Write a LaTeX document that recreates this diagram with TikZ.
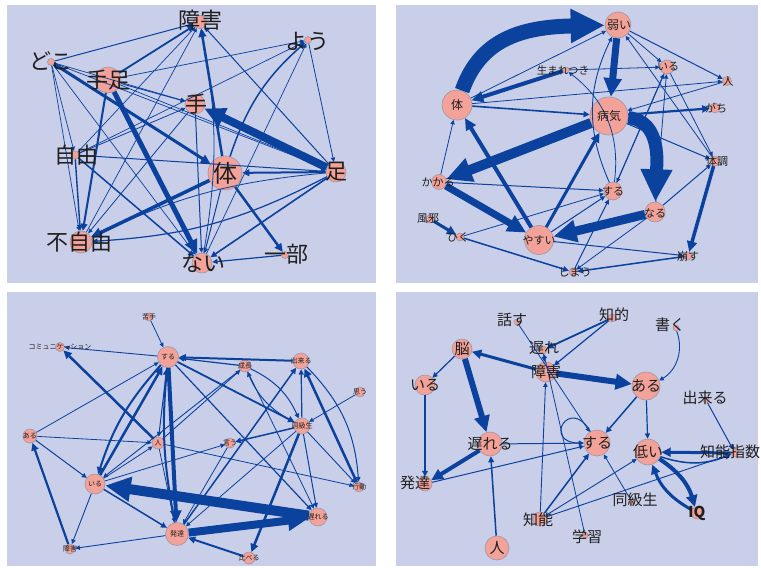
\documentclass[tikz,border=0pt]{standalone}
\usepackage{fontspec}
\newfontfamily\jp{Noto Sans CJK JP}
\usetikzlibrary{arrows.meta}
\definecolor{bg}{RGB}{201,206,233}
\definecolor{eb}{RGB}{10,66,158}
\definecolor{nf}{RGB}{242,162,152}
\definecolor{nb}{RGB}{160,150,165}
\tikzset{
  nd/.style={circle, fill=nf, draw=nb, line width=0.6pt, inner sep=0pt, minimum size=#1},
  lb/.style={font={\jp\fontsize{#1}{#1}\selectfont}, text={black!88}, inner sep=0pt},
  ar/.style={draw=eb, line width=#1pt, -{Triangle[length=2.5pt 2.3, width=2.5pt 2.1]}},
  panel/.style={fill=bg}
}
\newcommand\mkN[4]{\node[nd=#4pt] (#1) at (#2,#3) {};}
\newcommand\mkL[5]{\node[lb=#4] (#1) at (#2,#3) {#5};}
\newcommand\E[4][]{\draw[ar=#2,#1] (#3) to (#4);}
\begin{document}
\begin{tikzpicture}[x=1pt,y=-1pt]
\useasboundingbox (0,0) rectangle (761,568);
\fill[white] (0,0) rectangle (761,568);
\fill[panel] (7,5) rectangle (376,283);
\fill[panel] (396,5) rectangle (758,283);
\fill[panel] (7,292) rectangle (376,566);
\fill[panel] (396,292) rectangle (758,566);

% ---------------- Panel 1 ----------------
\mkN{a1}{200}{22}{13}
\mkN{a2}{308}{40}{7}
\mkN{a3}{51}{62}{7}
\mkN{a4}{108}{80}{26}
\mkN{a5}{195}{104}{20}
\mkN{a6}{75}{155}{8}
\mkN{a7}{225}{173}{34}
\mkN{a8}{336}{172}{20}
\mkN{a9}{81}{242}{22}
\mkN{a10}{202}{263}{20}
\mkN{a11}{285}{255}{7}

\E{1.0}{a3}{a1}
\E{1.8}{a4}{a1}
\E{2.5}{a7}{a1}
\E{8}{a8}{a5}
\E{3}{a3}{a7}
\E{5}{a4}{a10}
\E{2}{a4}{a9}
\E{3.5}{a7}{a9}
\E{1.4}{a6}{a9}
\E{2.5}{a7}{a11}
\E{2}{a8}{a7}
\E{1.6}{a8}{a10}
\E{1.2}{a11}{a10}
\E{0.7}{a3}{a5}
\E{0.9}{a4}{a5}
\E{0.7}{a4}{a2}
\E{0.7}{a6}{a2}
\E{0.7}{a3}{a6}
\E{0.7}{a3}{a9}
\E{0.7}{a3}{a10}
\E{0.7}{a3}{a8}
\E{1.0}{a6}{a8}
\E{1.5}{a6}{a10}
\E{1.0}{a5}{a10}
\E{0.8}{a5}{a9}
\E[bend left=12]{1.2}{a8}{a9}
\E[bend right=10]{0.8}{a8}{a9}
\E{0.8}{a2}{a8}
\E[bend left=15]{1.5}{a7}{a2}
\E{0.7}{a10}{a2}
\E{1.0}{a8}{a1}
\E[bend right=10]{0.8}{a10}{a1}
\E{0.7}{a9}{a1}
\E{0.7}{a6}{a1}
\E{1.0}{a7}{a10}
\E{0.8}{a6}{a5}
\E{0.7}{a4}{a8}

\mkL{la1}{200}{20}{22}{障害}
\mkL{la2}{307}{41}{22}{よう}
\mkL{la3}{51}{61}{22}{どこ}
\mkL{la4}{108}{80}{22}{手足}
\mkL{la5}{196}{104}{22}{手}
\mkL{la6}{76}{155}{22}{自由}
\mkL{la7}{225}{173}{24}{体}
\mkL{la8}{336}{172}{22}{足}
\mkL{la9}{79}{242}{22}{不自由}
\mkL{la10}{203}{263}{22}{ない}
\mkL{la11}{286}{254}{22}{一部}

% ---------------- Panel 2 ----------------
\mkN{b1}{618}{25}{26}
\mkN{b2}{457}{105}{30}
\mkN{b3}{609}{116}{38}
\mkN{b4}{566}{70}{6}
\mkN{b5}{667}{67}{14}
\mkN{b6}{727}{81}{9}
\mkN{b7}{715}{108}{10}
\mkN{b8}{715}{161}{10}
\mkN{b9}{613}{191}{18}
\mkN{b10}{655}{212}{20}
\mkN{b11}{688}{256}{8}
\mkN{b12}{573}{272}{8}
\mkN{b13}{539}{240}{29}
\mkN{b14}{439}{182}{15}
\mkN{b15}{430}{219}{8}
\mkN{b16}{460}{237}{8}

\draw[draw=eb, line width=15pt, -{Triangle[length=34pt, width=32pt]}] (b2) .. controls (480,40) and (520,27) .. (b1);
\E{7}{b1}{b3}
\draw[ar=13] (b3) to[out=-5,in=88] (b10);
\E{9}{b10}{b13}
\E{10}{b3}{b14}
\E{7}{b14}{b13}
\E{4}{b13}{b2}
\E{4}{b4}{b2}
\E{1.6}{b2}{b3}
\E{0.8}{b2}{b6}
\E{0.8}{b2}{b1}
\E{0.8}{b1}{b5}
\E{1.0}{b1}{b6}
\E{0.8}{b8}{b1}
\E{2.2}{b3}{b7}
\E{0.8}{b6}{b3}
\E{0.8}{b4}{b5}
\E{1.0}{b9}{b5}
\E[bend left=25]{0.9}{b9}{b1}
\E{1.0}{b10}{b8}
\E{3.5}{b8}{b11}
\E{1.0}{b3}{b8}
\E{3}{b15}{b16}
\E{1.5}{b16}{b12}
\E{1.5}{b11}{b12}
\E{0.8}{b16}{b9}
\E{1.0}{b14}{b9}
\E{0.8}{b14}{b2}
\E{3}{b13}{b3}
\E{1.0}{b13}{b9}
\E{1.0}{b13}{b11}
\E{0.8}{b10}{b12}
\E{1.0}{b12}{b9}
\E{0.8}{b5}{b8}
\E{0.8}{b5}{b9}
\E[bend right=30]{0.8}{b9}{b4}
\E{0.8}{b10}{b5}

\mkL{lb1}{619}{25}{12}{弱い}
\mkL{lb2}{457}{105}{12}{体}
\mkL{lb3}{609}{116}{12}{病気}
\mkL{lb4}{563}{70}{10.5}{生まれつき}
\mkL{lb5}{668}{67}{11}{いる}
\mkL{lb6}{728}{81}{11}{人}
\mkL{lb7}{716}{108}{11}{がち}
\mkL{lb8}{717}{161}{11}{体調}
\mkL{lb9}{613}{191}{11}{する}
\mkL{lb10}{655}{213}{11}{なる}
\mkL{lb11}{688}{256}{11}{崩す}
\mkL{lb12}{575}{272}{11}{しまう}
\mkL{lb13}{539}{240}{11}{やすい}
\mkL{lb14}{438}{182}{11}{かかる}
\mkL{lb15}{428}{219}{11}{風邪}
\mkL{lb16}{458}{237}{11}{ひく}

% ---------------- Panel 3 ----------------
\mkN{c1}{149}{317}{8}
\mkN{c2}{60}{347}{9}
\mkN{c3}{168}{357}{21}
\mkN{c4}{245}{366}{12}
\mkN{c5}{301}{361}{16}
\mkN{c6}{360}{392}{10}
\mkN{c7}{302}{426}{16}
\mkN{c8}{30}{436}{14}
\mkN{c9}{158}{443}{12}
\mkN{c10}{230}{443}{10}
\mkN{c11}{95}{484}{20}
\mkN{c12}{177}{534}{23}
\mkN{c13}{70}{549}{10}
\mkN{c14}{359}{487}{10}
\mkN{c15}{318}{517}{18}
\mkN{c16}{249}{558}{12}

\E{0.8}{c1}{c3}
\E{0.9}{c3}{c2}
\E{2.5}{c9}{c2}
\E{0.8}{c8}{c3}
\E{2.5}{c11}{c3}
\E[bend right=12]{2}{c3}{c11}
\E{2.0}{c5}{c3}
\E{1.2}{c4}{c3}
\E{4}{c3}{c12}
\E[bend left=8]{2}{c12}{c3}
\E{1.2}{c3}{c15}
\E{10}{c15}{c11}
\E{8}{c12}{c15}
\E{1.5}{c11}{c12}
\E{0.9}{c11}{c13}
\E{0.9}{c12}{c13}
\E{2.2}{c13}{c8}
\E{0.8}{c8}{c9}
\E{0.8}{c11}{c9}
\E{1.0}{c8}{c11}
\E{2}{c16}{c12}
\E{2.5}{c7}{c16}
\E{1.0}{c7}{c15}
\E{0.9}{c7}{c14}
\E{1.5}{c7}{c10}
\E{0.8}{c6}{c7}
\E{1.2}{c7}{c5}
\E[bend left=20]{1.0}{c5}{c14}
\E{2.5}{c14}{c5}
\E[bend left=20]{1.0}{c4}{c7}
\E[bend left=20]{1.0}{c7}{c4}
\E{0.9}{c4}{c11}
\E{0.9}{c9}{c4}
\E{1.5}{c12}{c5}
\E{1.8}{c3}{c7}
\E{0.8}{c9}{c14}
\E{0.8}{c11}{c10}
\E{0.8}{c7}{c12}
\E{0.8}{c9}{c12}
\E{1.0}{c3}{c9}
\E{0.8}{c4}{c15}
\E{0.8}{c10}{c12}

\mkL{lc1}{149}{317}{7}{苦手}
\mkL{lc2}{60}{347}{7}{コミュニケーション}
\mkL{lc3}{168}{357}{7}{する}
\mkL{lc4}{245}{366}{7}{成長}
\mkL{lc5}{301}{361}{7}{出来る}
\mkL{lc6}{360}{392}{7}{思う}
\mkL{lc7}{302}{426}{7}{同級生}
\mkL{lc8}{30}{436}{7}{ある}
\mkL{lc9}{158}{443}{7}{人}
\mkL{lc10}{230}{443}{7}{言う}
\mkL{lc11}{95}{484}{7}{いる}
\mkL{lc12}{177}{534}{7}{発達}
\mkL{lc13}{70}{549}{7}{障害}
\mkL{lc14}{359}{487}{7}{行動}
\mkL{lc15}{318}{517}{7}{遅れる}
\mkL{lc16}{249}{558}{7}{比べる}

% ---------------- Panel 4 ----------------
\mkN{d1}{517}{322}{6}
\mkN{d2}{612}{318}{8}
\mkN{d3}{676}{328}{6}
\mkN{d4}{462}{349}{20}
\mkN{d5}{543}{350}{8}
\mkN{d6}{425}{385}{20}
\mkN{d7}{546}{372}{20}
\mkN{d8}{646}{386}{28}
\mkN{d9}{706}{400}{6}
\mkN{d10}{597}{443}{26}
\mkN{d11}{490}{444}{24}
\mkN{d12}{648}{452}{26}
\mkN{d13}{735}{453}{8}
\mkN{d14}{425}{484}{14}
\mkN{d15}{632}{502}{6}
\mkN{d16}{540}{519}{14}
\mkN{d17}{585}{535}{6}
\mkN{d18}{697}{513}{12}
\mkN{d19}{497}{548}{24}

\E{0.8}{d1}{d10}
\E{1.8}{d2}{d5}
\E{1.2}{d2}{d7}
\E{1.0}{d5}{d7}
\E{6}{d7}{d8}
\E{3}{d7}{d4}
\E{6}{d4}{d11}
\E{4}{d11}{d14}
\E{1.5}{d6}{d14}
\E{1.0}{d14}{d10}
\E{1.5}{d16}{d10}
\E{1.5}{d19}{d11}
\E{0.9}{d16}{d7}
\E{0.8}{d17}{d5}
\E[bend left=20]{4}{d12}{d18}
\E[bend left=20]{3}{d18}{d12}
\E{3}{d13}{d12}
\E[bend right=20]{1.5}{d12}{d13}
\E{1.2}{d8}{d12}
\E{1.0}{d9}{d13}
\E[bend left=40]{0.9}{d3}{d8}
\E{0.8}{d15}{d10}
\E{0.9}{d16}{d12}
\E{0.9}{d16}{d13}
\E{1.2}{d4}{d6}
\E{1.0}{d11}{d10}
\E{1.5}{d8}{d10}
\draw[ar=1.0] (d10) to[out=120,in=180,looseness=8] (d10);

\mkL{ld1}{512}{320}{15}{話す}
\mkL{ld2}{614}{315}{15}{知的}
\mkL{ld3}{670}{325}{15}{書く}
\mkL{ld4}{462}{349}{15}{脳}
\mkL{ld5}{544}{348}{15}{遅れ}
\mkL{ld6}{425}{385}{15}{いる}
\mkL{ld7}{546}{372}{15}{障害}
\mkL{ld8}{646}{386}{15}{ある}
\mkL{ld9}{705}{398}{15}{出来る}
\mkL{ld10}{597}{443}{15}{する}
\mkL{ld11}{490}{444}{15}{遅れる}
\mkL{ld12}{648}{452}{15}{低い}
\mkL{ld13}{730}{452}{15}{知能指数}
\mkL{ld14}{415}{483}{15}{発達}
\mkL{ld15}{635}{500}{15}{同級生}
\mkL{ld16}{538}{520}{15}{知能}
\mkL{ld17}{587}{537}{15}{学習}
\node[lb=15, font={\jp\bfseries\fontsize{15}{15}\selectfont}] (ld18) at (697,513) {IQ};
\mkL{ld19}{497}{548}{15}{人}
\end{tikzpicture}
\end{document}
